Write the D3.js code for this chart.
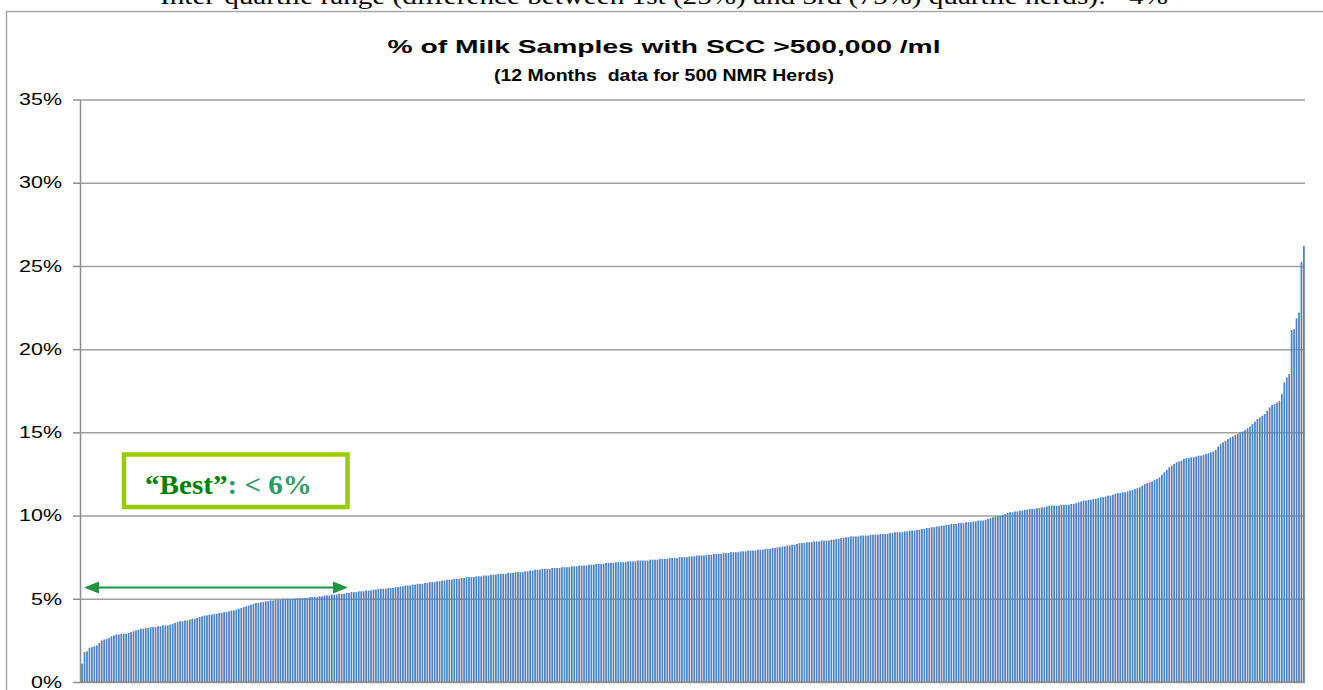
<!DOCTYPE html>
<html>
<head>
<meta charset="utf-8">
<script src="https://cdn.jsdelivr.net/npm/d3@7"></script>
<style>
  body { margin: 0; background: #fff; }
  svg { display: block; }
  text { white-space: pre; }
</style>
</head>
<body>
<div id="chart"></div>
<script>
// % of samples > 500,000 /ml, one value per herd, sorted low to high
const herdPct = [
  1.1, 1.8, 1.85, 2.05, 2.1, 2.15, 2.2, 2.35, 2.5, 2.55, 2.6, 2.65, 2.75, 2.8, 2.85, 2.85, 2.9, 2.9, 2.9, 2.95,
  3.0, 3.05, 3.1, 3.15, 3.2, 3.2, 3.25, 3.25, 3.3, 3.3, 3.3, 3.35, 3.35, 3.4, 3.4, 3.4, 3.45, 3.5, 3.55, 3.6,
  3.65, 3.65, 3.7, 3.7, 3.75, 3.8, 3.8, 3.85, 3.9, 3.95, 4.0, 4.0, 4.05, 4.05, 4.1, 4.1, 4.15, 4.15, 4.2, 4.2,
  4.25, 4.3, 4.3, 4.35, 4.4, 4.45, 4.5, 4.55, 4.6, 4.65, 4.7, 4.75, 4.75, 4.8, 4.8, 4.85, 4.85, 4.9, 4.9, 4.95,
  4.95, 4.95, 5.0, 5.0, 5.0, 5.0, 5.0, 5.0, 5.03, 5.03, 5.05, 5.05, 5.05, 5.1, 5.1, 5.1, 5.1, 5.15, 5.15, 5.2,
  5.2, 5.2, 5.25, 5.25, 5.25, 5.3, 5.3, 5.3, 5.35, 5.35, 5.4, 5.4, 5.4, 5.45, 5.45, 5.45, 5.5, 5.5, 5.5, 5.55,
  5.55, 5.6, 5.6, 5.6, 5.6, 5.65, 5.65, 5.65, 5.7, 5.7, 5.75, 5.75, 5.8, 5.8, 5.8, 5.85, 5.85, 5.9, 5.9, 5.9,
  5.95, 5.95, 6.0, 6.0, 6.0, 6.05, 6.05, 6.1, 6.1, 6.15, 6.15, 6.15, 6.2, 6.2, 6.2, 6.25, 6.25, 6.3, 6.3, 6.3,
  6.3, 6.35, 6.35, 6.35, 6.4, 6.4, 6.4, 6.45, 6.45, 6.45, 6.5, 6.5, 6.5, 6.5, 6.55, 6.55, 6.55, 6.6, 6.6, 6.6,
  6.6, 6.65, 6.65, 6.7, 6.7, 6.75, 6.75, 6.75, 6.8, 6.8, 6.8, 6.8, 6.85, 6.85, 6.85, 6.85, 6.9, 6.9, 6.9, 6.9,
  6.95, 6.95, 6.95, 7.0, 7.0, 7.0, 7.0, 7.05, 7.05, 7.05, 7.1, 7.1, 7.1, 7.1, 7.15, 7.15, 7.15, 7.15, 7.2, 7.2,
  7.2, 7.2, 7.2, 7.25, 7.25, 7.25, 7.25, 7.3, 7.3, 7.3, 7.3, 7.3, 7.35, 7.35, 7.35, 7.35, 7.4, 7.4, 7.4, 7.4,
  7.45, 7.45, 7.45, 7.45, 7.5, 7.5, 7.5, 7.5, 7.55, 7.55, 7.55, 7.6, 7.6, 7.6, 7.6, 7.65, 7.65, 7.65, 7.7, 7.7,
  7.7, 7.7, 7.75, 7.75, 7.75, 7.8, 7.8, 7.8, 7.8, 7.85, 7.85, 7.85, 7.9, 7.9, 7.9, 7.9, 7.95, 7.95, 7.95, 8.0,
  8.0, 8.0, 8.05, 8.05, 8.1, 8.1, 8.15, 8.15, 8.2, 8.2, 8.25, 8.25, 8.3, 8.35, 8.35, 8.35, 8.4, 8.4, 8.4, 8.45,
  8.45, 8.45, 8.5, 8.5, 8.5, 8.5, 8.55, 8.55, 8.6, 8.6, 8.65, 8.65, 8.7, 8.7, 8.75, 8.75, 8.75, 8.75, 8.8, 8.8,
  8.8, 8.8, 8.85, 8.85, 8.85, 8.85, 8.9, 8.9, 8.9, 8.9, 8.95, 8.95, 9.0, 9.0, 9.0, 9.0, 9.05, 9.05, 9.1, 9.1,
  9.1, 9.15, 9.15, 9.2, 9.2, 9.25, 9.25, 9.3, 9.3, 9.35, 9.35, 9.4, 9.4, 9.45, 9.45, 9.5, 9.5, 9.5, 9.55, 9.55,
  9.55, 9.6, 9.6, 9.6, 9.65, 9.65, 9.7, 9.7, 9.7, 9.75, 9.8, 9.85, 9.9, 9.95, 9.95, 10.0, 10.05, 10.1, 10.15, 10.2,
  10.2, 10.25, 10.25, 10.3, 10.3, 10.35, 10.35, 10.4, 10.4, 10.4, 10.45, 10.45, 10.5, 10.5, 10.55, 10.6, 10.6, 10.6, 10.6, 10.6,
  10.65, 10.65, 10.65, 10.65, 10.7, 10.7, 10.75, 10.8, 10.85, 10.9, 10.9, 10.95, 10.95, 11.0, 11.0, 11.05, 11.1, 11.1, 11.15, 11.2,
  11.2, 11.25, 11.3, 11.35, 11.35, 11.4, 11.4, 11.45, 11.5, 11.55, 11.6, 11.65, 11.7, 11.8, 11.9, 11.95, 12.0, 12.05, 12.15, 12.2,
  12.3, 12.45, 12.6, 12.75, 12.9, 13.0, 13.1, 13.2, 13.25, 13.3, 13.4, 13.45, 13.45, 13.5, 13.5, 13.55, 13.6, 13.6, 13.65, 13.7,
  13.75, 13.8, 13.85, 13.95, 14.15, 14.3, 14.4, 14.5, 14.6, 14.7, 14.75, 14.85, 14.9, 15.0, 15.05, 15.15, 15.25, 15.35, 15.5, 15.65,
  15.8, 15.9, 16.0, 16.1, 16.3, 16.5, 16.65, 16.7, 16.8, 16.9, 17.3, 18.0, 18.3, 18.5, 21.15, 21.2, 21.85, 22.2, 25.25, 26.2
];
const yTicks = [0, 5, 10, 15, 20, 25, 30, 35];
const titleText = "% of Milk Samples with SCC >500,000 /ml";
const subtitleText = "(12 Months  data for 500 NMR Herds)";
const headerText = "Inter-quartile range (difference between 1st (25%) and 3rd (75%) quartile herds): ~4%";

const W = 1323, H = 690;
const svg = d3.select("#chart").append("svg")
    .attr("width", W)
    .attr("height", H);

// stretch text horizontally the way the original picture is stretched
function stretch(sel, k) {
  sel.each(function() {
    const w = this.getComputedTextLength();
    d3.select(this).attr("textLength", w * k).attr("lengthAdjust", "spacingAndGlyphs");
  });
}

// line of text above the chart frame, cut by the top edge as in the original
svg.append("text")
    .attr("x", 664).attr("y", 4)
    .attr("text-anchor", "middle")
    .style("font-family", "'Liberation Serif', 'Times New Roman', serif")
    .style("font-size", "24px")
    .attr("textLength", 1008).attr("lengthAdjust", "spacingAndGlyphs")
    .text(headerText);

// chart frame
svg.append("rect")
    .attr("x", 6.5).attr("y", 11.5)
    .attr("width", 1330).attr("height", 700)
    .attr("fill", "#fff")
    .attr("stroke", "#a6a6a6")
    .attr("stroke-width", 1.5);

const x = d3.scaleBand()
    .domain(d3.range(herdPct.length))
    .range([81, 1305])
    .paddingInner(0.3)
    .paddingOuter(0.1);

const y = d3.scaleLinear()
    .domain([0, 35])
    .range([682, 99.5]);

// gridlines
svg.append("g")
    .attr("transform", "translate(80,0)")
    .call(d3.axisLeft(y).tickValues(yTicks).tickSize(-1225).tickFormat(""))
    .call(g => g.select(".domain").remove())
    .call(g => g.selectAll("line").attr("stroke", "#a0a0a0").attr("stroke-width", 1.5));

// bars
svg.append("g")
  .selectAll("rect")
  .data(herdPct)
  .join("rect")
    .attr("x", (d, i) => x(i))
    .attr("width", x.bandwidth())
    .attr("y", d => y(d))
    .attr("height", d => y(0) - y(d))
    .attr("fill", "#4f81bd");

// y axis
const yAxis = svg.append("g")
    .attr("transform", "translate(80,0)")
    .call(d3.axisLeft(y).tickValues(yTicks).tickSize(7).tickSizeOuter(0).tickPadding(11).tickFormat(d => d + "%"));
yAxis.select(".domain").attr("stroke", "#8c8c8c").attr("stroke-width", 1.5);
yAxis.selectAll(".tick line").attr("stroke", "#8c8c8c").attr("stroke-width", 1.5);
yAxis.selectAll(".tick text")
    .attr("fill", "#000")
    .style("font-family", "'Liberation Sans', Arial, sans-serif")
    .style("font-size", "16.5px")
    .call(stretch, 1.3);

// x axis baseline
svg.append("line")
    .attr("x1", 80).attr("x2", 1305)
    .attr("y1", y(0)).attr("y2", y(0))
    .attr("stroke", "#8c8c8c").attr("stroke-width", 1.5);

// titles
svg.append("text")
    .attr("x", 664).attr("y", 53)
    .attr("text-anchor", "middle")
    .style("font-family", "'Liberation Sans', Arial, sans-serif")
    .style("font-weight", "bold")
    .style("font-size", "19px")
    .attr("textLength", 553).attr("lengthAdjust", "spacingAndGlyphs")
    .text(titleText);

svg.append("text")
    .attr("x", 664).attr("y", 81)
    .attr("text-anchor", "middle")
    .style("font-family", "'Liberation Sans', Arial, sans-serif")
    .style("font-weight", "bold")
    .style("font-size", "16.5px")
    .attr("textLength", 340).attr("lengthAdjust", "spacingAndGlyphs")
    .text(subtitleText);

// "Best" annotation box
svg.append("rect")
    .attr("x", 124).attr("y", 454.5)
    .attr("width", 223.5).attr("height", 52.5)
    .attr("fill", "#fff")
    .attr("stroke", "#99cc00")
    .attr("stroke-width", 4.5);

const best = svg.append("text")
    .attr("x", 145).attr("y", 494)
    .style("font-family", "'Liberation Serif', 'Times New Roman', serif")
    .style("font-weight", "bold")
    .style("font-size", "27px")
    .attr("textLength", 167).attr("lengthAdjust", "spacingAndGlyphs");
best.append("tspan").attr("fill", "#008000").text("\u201cBest\u201d");
best.append("tspan").attr("fill", "#339966").text(": < 6%");

// double-headed arrow over the best herds
const arrowY = 587.5, ax0 = 84, ax1 = 348, ah = 15, aw = 6;
svg.append("line")
    .attr("x1", ax0 + ah - 2).attr("x2", ax1 - ah + 2)
    .attr("y1", arrowY).attr("y2", arrowY)
    .attr("stroke", "#239140").attr("stroke-width", 2);
svg.append("path")
    .attr("d", `M${ax0},${arrowY} L${ax0 + ah},${arrowY - aw} L${ax0 + ah},${arrowY + aw} Z`)
    .attr("fill", "#239140");
svg.append("path")
    .attr("d", `M${ax1},${arrowY} L${ax1 - ah},${arrowY - aw} L${ax1 - ah},${arrowY + aw} Z`)
    .attr("fill", "#239140");
</script>
</body>
</html>
